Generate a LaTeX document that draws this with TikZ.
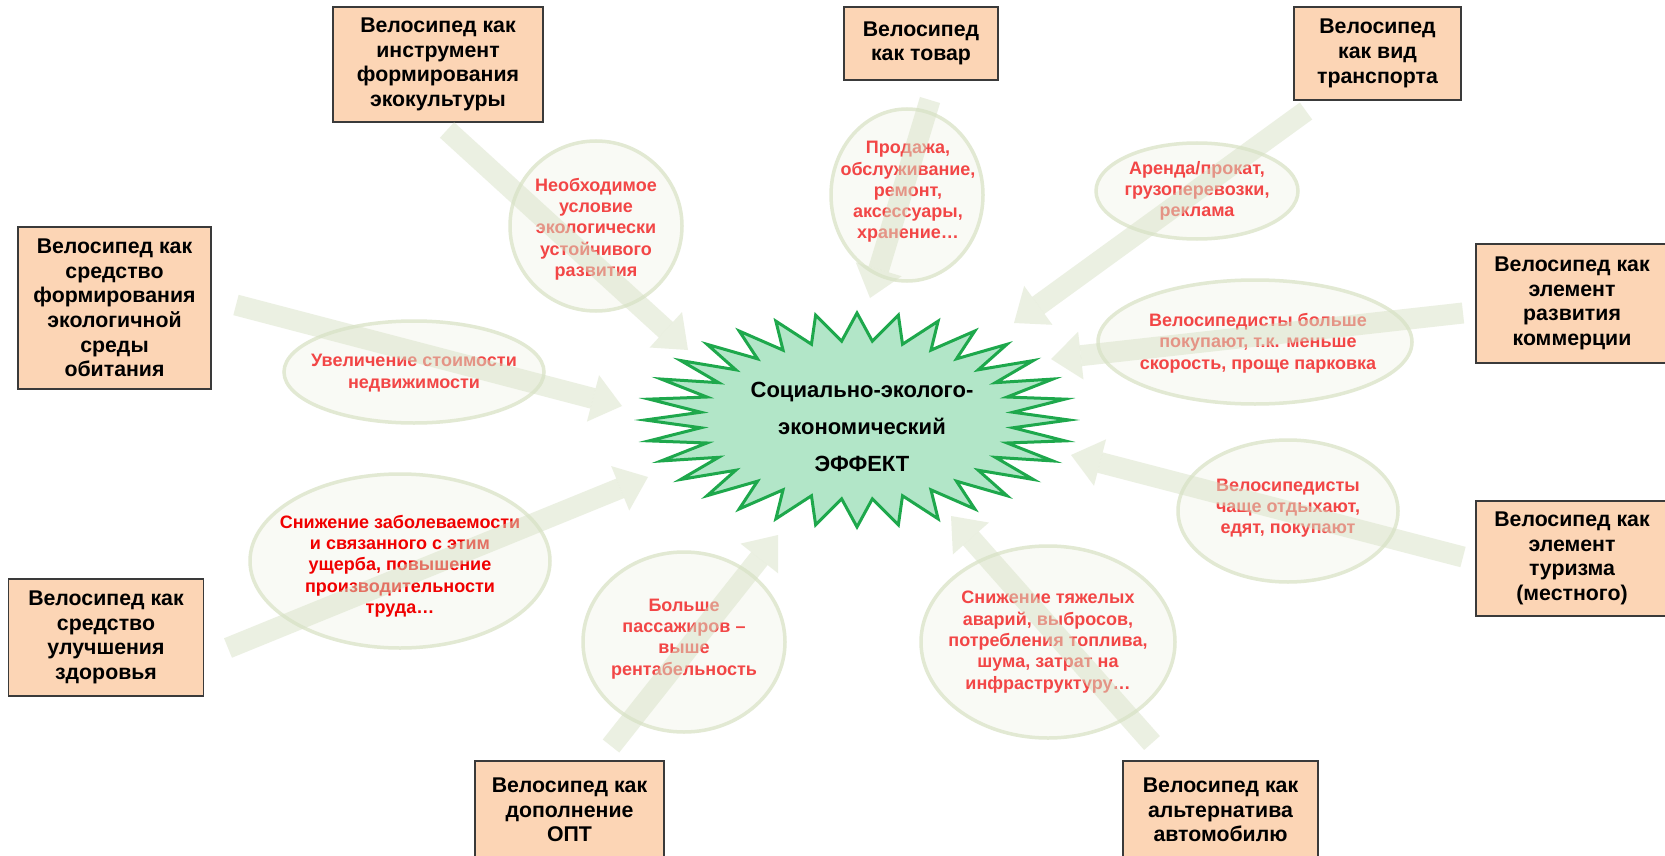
\documentclass[tikz,border=0pt]{standalone}
\usepackage{fontspec}
\setmainfont{Liberation Sans}
\usetikzlibrary{arrows.meta}
\definecolor{boxfill}{HTML}{FCD5B5}
\definecolor{boxline}{HTML}{3A3A3A}
\definecolor{starfill}{HTML}{B2E6C8}
\definecolor{starline}{HTML}{1EA84C}
\definecolor{ellline}{HTML}{E2E9D3}
\definecolor{ellfill}{HTML}{F7F9F1}
\definecolor{arrcol}{HTML}{D8E2C6}
\definecolor{redtxt}{HTML}{F24646}
\definecolor{redstrong}{HTML}{F00000}
\begin{document}
\begin{tikzpicture}[x=1pt,y=-1pt,
  cbox/.style={draw=boxline,line width=1.5pt,fill=boxfill,align=center,inner sep=0pt,
    font=\bfseries\fontsize{21.3}{24.7}\selectfont},
  ell/.style={draw=ellline,line width=3.5pt,fill=ellfill,fill opacity=0.7},
  etxt/.style={text=redtxt,align=center,inner sep=0pt,font=\bfseries\fontsize{18}{21.3}\selectfont},
  barrow/.style={draw=arrcol,line width=21pt,opacity=0.5,-{Triangle[width=48pt,length=30pt,line width=0pt]}},
  stxt/.style={align=center,inner sep=0pt,font=\bfseries\fontsize{22}{37}\selectfont}]
\useasboundingbox (0,0) rectangle (1665,856);
\fill[white] (0,0) rectangle (1665,856);

% boxes
\node[cbox,minimum width=210pt,minimum height=115pt] (b1) at (438,64.5) {Велосипед как\\инструмент\\формирования\\экокультуры};
\node[cbox,minimum width=154pt,minimum height=73pt] (b2) at (921,43.5) {Велосипед\\как товар};
\node[cbox,minimum width=167pt,minimum height=93pt] (b3) at (1377.5,53.5) {Велосипед\\как вид\\транспорта};
\node[cbox,minimum width=193pt,minimum height=162pt] (b4) at (114.5,308) {Велосипед как\\средство\\формирования\\экологичной\\среды\\обитания};
\node[cbox,minimum width=192pt,minimum height=119pt] (b5) at (1572,303.5) {Велосипед как\\элемент\\развития\\коммерции};
\node[cbox,minimum width=192pt,minimum height=115pt] (b6) at (1572,558.5) {Велосипед как\\элемент\\туризма\\(местного)};
\node[cbox,minimum width=195pt,minimum height=117pt] (b7) at (106,637.5) {Велосипед как\\средство\\улучшения\\здоровья};
\node[cbox,minimum width=189pt,minimum height=98pt] (b8) at (569.5,810) {Велосипед как\\дополнение\\ОПТ};
\node[cbox,minimum width=195pt,minimum height=98pt] (b9) at (1220.5,810) {Велосипед как\\альтернатива\\автомобилю};

% starburst
\draw[fill=starfill,draw=starline,line width=3pt,line join=miter]
  plot[domain=0:63,samples=64,variable=\k]
  ({857+212*(1-0.26*mod(\k,2))*cos(\k*5.625)},{420+107*(1-0.26*mod(\k,2))*sin(\k*5.625)}) -- cycle;
\node[stxt] (star) at (862,427) {Социально-эколого-\\экономический\\ЭФФЕКТ};

% ellipses
\coordinate (c1) at (596,226);
\coordinate (c2) at (907,195);
\coordinate (c3) at (1197,191);
\coordinate (c4) at (414,372);
\coordinate (c5) at (1255,342);
\coordinate (c6) at (1288,511);
\coordinate (c7) at (400,561);
\coordinate (c8) at (684,642);
\coordinate (c9) at (1048,642);
\draw[ell] (c1) ellipse [x radius=86pt,y radius=85pt];
\draw[ell] (c2) ellipse [x radius=76pt,y radius=86pt];
\draw[ell] (c3) ellipse [x radius=101pt,y radius=48pt];
\draw[ell] (c4) ellipse [x radius=130pt,y radius=51pt];
\draw[ell] (c5) ellipse [x radius=157pt,y radius=62pt];
\draw[ell] (c6) ellipse [x radius=110pt,y radius=71pt];
\draw[ell] (c7) ellipse [x radius=150pt,y radius=87pt];
\draw[ell] (c8) ellipse [x radius=101pt,y radius=90pt];
\draw[ell] (c9) ellipse [x radius=127pt,y radius=96pt];

\node[etxt] (e1) at (596,229) {Необходимое\\условие\\экологически\\устойчивого\\развития};
\node[etxt] (e2) at (908,192) {Продажа,\\обслуживание,\\ремонт,\\аксессуары,\\хранение…};
\node[etxt] (e3) at (1197,191) {Аренда/прокат,\\грузоперевозки,\\реклама};
\node[etxt] (e4) at (414,373) {Увеличение стоимости\\недвижимости};
\node[etxt] (e5) at (1258,343) {Велосипедисты больше\\покупают, т.к. меньше\\скорость, проще парковка};
\node[etxt] (e6) at (1288,508) {Велосипедисты\\чаще отдыхают,\\едят, покупают};
\node[etxt,text=redstrong] (e7) at (400,566) {Снижение заболеваемости\\и связанного с этим\\ущерба, повышение\\производительности\\труда…};
\node[etxt] (e8) at (684,639) {Больше\\пассажиров –\\выше\\рентабельность};
\node[etxt] (e9) at (1048,642) {Снижение тяжелых\\аварий, выбросов,\\потребления топлива,\\шума, затрат на\\инфраструктуру…};

% arrows
\coordinate (s1) at (447,130);  \coordinate (t1) at (688,350);
\coordinate (s2) at (930,100);  \coordinate (t2) at (870,298);
\coordinate (s3) at (1306,111); \coordinate (t3) at (1014,323);
\coordinate (s4) at (236,305);  \coordinate (t4) at (622,406);
\coordinate (s5) at (1463,313); \coordinate (t5) at (1051,359);
\coordinate (s6) at (1463,557); \coordinate (t6) at (1071,455);
\coordinate (s7) at (228,648);  \coordinate (t7) at (648,477);
\coordinate (s8) at (611,746);  \coordinate (t8) at (778,535);
\coordinate (s9) at (1152,743); \coordinate (t9) at (951,516);
\foreach \i in {1,...,9} {\draw[barrow] (s\i) -- (t\i);}
\end{tikzpicture}
\end{document}
